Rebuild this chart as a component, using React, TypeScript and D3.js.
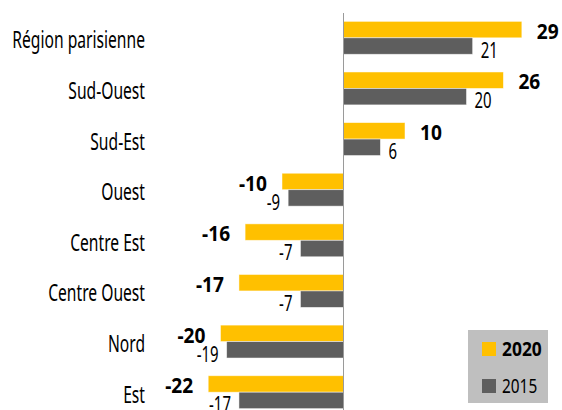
import React, { useEffect, useRef } from "react";
import { select, scaleLinear, scaleBand } from "d3";

const regions = [
  "Région parisienne",
  "Sud-Ouest",
  "Sud-Est",
  "Ouest",
  "Centre Est",
  "Centre Ouest",
  "Nord",
  "Est",
];
const values2020 = [29, 26, 10, -10, -16, -17, -20, -22];
const values2015 = [21, 20, 6, -9, -7, -7, -19, -17];
const seriesNames = ["2020", "2015"];

const YELLOW = "#FFC000";
const GREY = "#5E5E5E";
const FONT = "'Noto Sans', 'Open Sans', sans-serif";

// condensed look: squeeze the glyphs horizontally around the anchor point
const addText = (
  parent: any,
  x: number,
  y: number,
  txt: string,
  opts: { size: number; bold?: boolean; anchor?: string; squeeze: number }
) => {
  parent
    .append("text")
    .attr("transform", `translate(${x},${y}) scale(${opts.squeeze},1)`)
    .attr("text-anchor", opts.anchor || "start")
    .attr("font-family", FONT)
    .attr("font-size", opts.size)
    .attr("font-weight", opts.bold ? "bold" : "normal")
    .attr("fill", "#000")
    .text(txt);
};

const App = () => {
  const svgRef = useRef<SVGSVGElement>(null);

  useEffect(() => {
    const width = 562;
    const height = 410;
    const svg = select(svgRef.current);
    svg.selectAll("*").remove();

    const xScale = scaleLinear().domain([-30, 30]).range([159, 528]);
    const yScale = scaleBand()
      .domain(regions)
      .range([12.5, 417.5])
      .paddingInner(0.35)
      .paddingOuter(0.175);
    const barH = yScale.bandwidth() / 2;

    const rows = regions.map((r, i) => ({
      region: r,
      v2020: values2020[i],
      v2015: values2015[i],
    }));

    const g = svg.append("g");

    g.selectAll("rect.b2020")
      .data(rows)
      .enter()
      .append("rect")
      .attr("class", "b2020")
      .attr("x", (d: any) => Math.min(xScale(0), xScale(d.v2020)))
      .attr("y", (d: any) => yScale(d.region))
      .attr("width", (d: any) => Math.abs(xScale(d.v2020) - xScale(0)))
      .attr("height", barH)
      .attr("fill", YELLOW)
      .attr("stroke", "#fff")
      .attr("stroke-opacity", 0.6)
      .attr("stroke-width", 0.8);

    g.selectAll("rect.b2015")
      .data(rows)
      .enter()
      .append("rect")
      .attr("class", "b2015")
      .attr("x", (d: any) => Math.min(xScale(0), xScale(d.v2015)))
      .attr("y", (d: any) => yScale(d.region) + barH)
      .attr("width", (d: any) => Math.abs(xScale(d.v2015) - xScale(0)))
      .attr("height", barH)
      .attr("fill", GREY)
      .attr("stroke", "#fff")
      .attr("stroke-opacity", 0.6)
      .attr("stroke-width", 0.8);

    rows.forEach((d) => {
      const top = yScale(d.region) as number;
      // 2020 value, bold
      addText(
        g,
        xScale(d.v2020) + (d.v2020 >= 0 ? 15 : -15),
        top + barH + 1,
        String(d.v2020),
        { size: 22, bold: true, anchor: d.v2020 >= 0 ? "start" : "end", squeeze: 0.87 }
      );
      // 2015 value
      addText(
        g,
        xScale(d.v2015) + (d.v2015 >= 0 ? 8 : -8),
        top + 2 * barH + 3.5,
        String(d.v2015),
        { size: 22, anchor: d.v2015 >= 0 ? "start" : "end", squeeze: 0.68 }
      );
      // category
      addText(g, 145, top + barH + 10.5, d.region, {
        size: 23,
        anchor: "end",
        squeeze: 0.68,
      });
    });

    g.append("line")
      .attr("x1", xScale(0))
      .attr("x2", xScale(0))
      .attr("y1", 13)
      .attr("y2", height)
      .attr("stroke", "#9a9a9a")
      .attr("stroke-width", 1);

    // legend
    const legend = g.append("g").attr("transform", "translate(468,330)");
    legend
      .append("rect")
      .attr("width", 80)
      .attr("height", 73)
      .attr("fill", "#BFBFBF");
    const legendColors = [YELLOW, GREY];
    seriesNames.forEach((name, i) => {
      const row = legend
        .append("g")
        .attr("transform", `translate(14,${12 + i * 37})`);
      row
        .append("rect")
        .attr("width", 14)
        .attr("height", 14)
        .attr("fill", legendColors[i]);
      addText(row, 20, 14, name, {
        size: 20,
        bold: i === 0,
        squeeze: i === 0 ? 0.87 : 0.77,
      });
    });

    svg.attr("width", width).attr("height", height);
  }, []);

  return (
    <div style={{ position: "absolute", left: 0, top: 0 }}>
      <svg ref={svgRef} style={{ display: "block" }}></svg>
    </div>
  );
};

export default App;
